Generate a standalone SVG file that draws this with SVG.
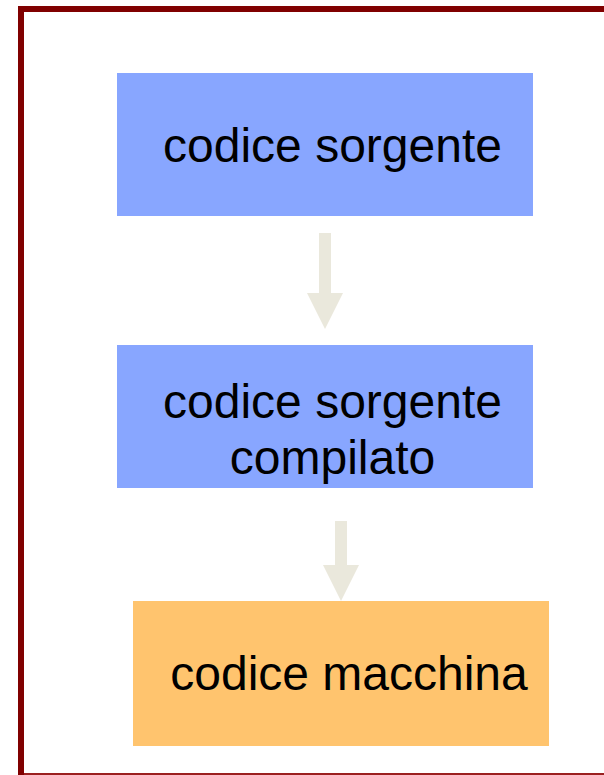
<svg xmlns="http://www.w3.org/2000/svg" width="604" height="775" viewBox="0 0 604 775">
<style>
.lbl{font-family:"Liberation Sans",Arial,sans-serif;font-size:48px;fill:#000;text-anchor:middle}
.blue{fill:#88A6FF}
.orange{fill:#FFC46E}
.arr{fill:#EAE8DC}
</style>
<rect x="0" y="0" width="604" height="775" fill="#fff"/>
<g id="frame">
<rect x="18" y="6" width="6" height="769" fill="#800000"/>
<rect x="18" y="6" width="586" height="6" fill="#800000"/>
<rect x="24" y="773" width="580" height="2" fill="#9B2020"/>
</g>
<g id="node1">
<rect class="blue" x="117" y="73" width="416" height="143"/>
<text class="lbl" x="332.5" y="162">codice sorgente</text>
</g>
<g id="node2">
<rect class="blue" x="117" y="345" width="416" height="143"/>
<text class="lbl" x="332.5" y="418">codice sorgente</text>
<text class="lbl" x="332.5" y="474">compilato</text>
</g>
<g id="node3">
<rect class="orange" x="133" y="601" width="416" height="145"/>
<text class="lbl" x="349" y="690">codice macchina</text>
</g>
<g id="connectors">
<polygon class="arr" points="319,233 331,233 331,293 343,293 325,329 307,293 319,293"/>
<polygon class="arr" points="335,521 347,521 347,565 359,565 341,601 323,565 335,565"/>
</g>
</svg>
